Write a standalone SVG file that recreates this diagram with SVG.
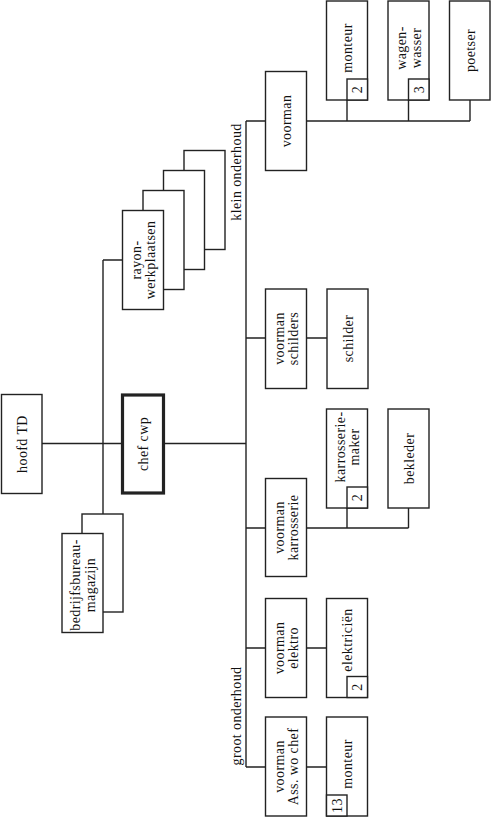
<svg xmlns="http://www.w3.org/2000/svg" width="491" height="818" viewBox="0 0 491 818">
<style>
.n{fill:#fff;stroke:#222;stroke-width:1.4}
.thick{stroke-width:3.2}
.c{fill:none;stroke:#222;stroke-width:1.4}
text{font-family:"Liberation Serif","DejaVu Serif",serif;font-size:14px;letter-spacing:0.4px;fill:#111;text-anchor:middle}
</style>
<rect width="491" height="818" fill="#fff"/>
<g id="connectors">
<path class="c" d="M42 443.5H122.5M164 443.5H246M103 260V514M103 260H122.5M246 121V767"/>
<path class="c" d="M246 121H265.5M306.5 121H470M347 121V100M408.5 121V100M470 121V100"/>
<path class="c" d="M246 338H265.5M306.5 338H327"/>
<path class="c" d="M246 528H265.5M306.5 528H408.5M347 528V508M408.5 528V508"/>
<path class="c" d="M246 648H265.5M306.5 648H326.5"/>
<path class="c" d="M246 767H265.5M306.5 767H326.5"/>
</g>
<g id="labels">
<text transform="translate(241,172) rotate(-90)">klein onderhoud</text>
<text transform="translate(241,716) rotate(-90)">groot onderhoud</text>
</g>
<g id="hoofd-td">
<rect class="n" x="1.5" y="394.5" width="40.5" height="99"/>
<text transform="translate(21.75,444) rotate(-90)" y="5">hoofd TD</text>
</g>
<g id="chef-cwp">
<rect class="n thick" x="122.5" y="395" width="41" height="98"/>
<text transform="translate(143,444) rotate(-90)" y="5">chef cwp</text>
</g>
<g id="rayon-werkplaatsen">
<rect class="n" x="184" y="150.5" width="41" height="99"/>
<rect class="n" x="163.5" y="170.5" width="41" height="99"/>
<rect class="n" x="143" y="190.5" width="41" height="99"/>
<rect class="n" x="122.5" y="210.5" width="41" height="99"/>
<text transform="translate(143,260) rotate(-90)"><tspan x="0" y="-2.5">rayon-</tspan><tspan x="0" y="12">werkplaatsen</tspan></text>
</g>
<g id="bedrijfsbureau-magazijn">
<rect class="n" x="82" y="514" width="41" height="98"/>
<rect class="n" x="62" y="533.5" width="41" height="99"/>
<text transform="translate(82.5,585) rotate(-90)"><tspan x="0" y="-2.5">bedrijfsbureau-</tspan><tspan x="0" y="12">magazijn</tspan></text>
</g>
<g id="voorman-klein">
<rect class="n" x="265.5" y="71.5" width="41" height="99"/>
<text transform="translate(286,121) rotate(-90)" y="5">voorman</text>
</g>
<g id="monteur-klein">
<rect class="n" x="326.5" y="1" width="41" height="99"/>
<rect class="n" x="347" y="79" width="20.5" height="21"/>
<text transform="translate(347,48) rotate(-90)" y="5">monteur</text>
<text transform="translate(357.25,89.5) rotate(-90)" y="5">2</text>
</g>
<g id="wagenwasser">
<rect class="n" x="388" y="1" width="41" height="99"/>
<rect class="n" x="408.5" y="79" width="20.5" height="21"/>
<text transform="translate(408.5,48) rotate(-90)"><tspan x="0" y="-2.5">wagen-</tspan><tspan x="0" y="12">wasser</tspan></text>
<text transform="translate(418.75,89.5) rotate(-90)" y="5">3</text>
</g>
<g id="poetser">
<rect class="n" x="449.5" y="1" width="40.5" height="99"/>
<text transform="translate(469.75,50.5) rotate(-90)" y="5">poetser</text>
</g>
<g id="voorman-schilders">
<rect class="n" x="265.5" y="289" width="41" height="99.5"/>
<text transform="translate(286,338.5) rotate(-90)"><tspan x="0" y="-2.5">voorman</tspan><tspan x="0" y="12">schilders</tspan></text>
</g>
<g id="schilder">
<rect class="n" x="327" y="289" width="41" height="99.5"/>
<text transform="translate(347.5,338.5) rotate(-90)" y="5">schilder</text>
</g>
<g id="voorman-karrosserie">
<rect class="n" x="265.5" y="478.5" width="41" height="98"/>
<text transform="translate(286,527.5) rotate(-90)"><tspan x="0" y="-2.5">voorman</tspan><tspan x="0" y="12">karrosserie</tspan></text>
</g>
<g id="karrosseriemaker">
<rect class="n" x="326.5" y="409" width="41" height="99"/>
<rect class="n" x="347" y="487" width="20.5" height="21"/>
<text transform="translate(347,447) rotate(-90)"><tspan x="0" y="-2.5">karrosserie-</tspan><tspan x="0" y="12">maker</tspan></text>
<text transform="translate(357.25,497.5) rotate(-90)" y="5">2</text>
</g>
<g id="bekleder">
<rect class="n" x="388" y="409" width="41" height="99"/>
<text transform="translate(408.5,458.5) rotate(-90)" y="5">bekleder</text>
</g>
<g id="voorman-elektro">
<rect class="n" x="265.5" y="598.5" width="41" height="99"/>
<text transform="translate(286,648) rotate(-90)"><tspan x="0" y="-2.5">voorman</tspan><tspan x="0" y="12">elektro</tspan></text>
</g>
<g id="elektricien">
<rect class="n" x="326.5" y="598.5" width="41" height="99"/>
<rect class="n" x="347" y="676.5" width="20.5" height="21"/>
<text transform="translate(347,640) rotate(-90)" y="5">elektriciën</text>
<text transform="translate(357.25,687) rotate(-90)" y="5">2</text>
</g>
<g id="voorman-ass">
<rect class="n" x="265.5" y="717" width="41" height="99"/>
<text transform="translate(286,766.5) rotate(-90)"><tspan x="0" y="-2.5">voorman</tspan><tspan x="0" y="12">Ass. wo chef</tspan></text>
</g>
<g id="monteur-groot">
<rect class="n" x="326.5" y="717" width="41" height="99"/>
<rect class="n" x="326.5" y="795" width="20.5" height="21"/>
<text transform="translate(347,764) rotate(-90)" y="5">monteur</text>
<text transform="translate(336.75,805.5) rotate(-90)" y="5">13</text>
</g>
</svg>
